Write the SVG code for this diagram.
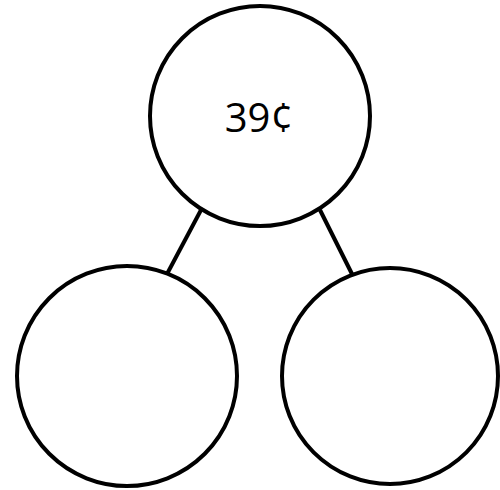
<svg xmlns="http://www.w3.org/2000/svg" width="500" height="490" viewBox="0 0 500 490">
<style>
.n{fill:#fff;stroke:#000;stroke-width:4}
.c{stroke:#000;stroke-width:4;fill:none}
.t{font-family:"Open Sans","Noto Sans",sans-serif;font-size:40px;fill:#000;text-anchor:middle}
</style>
<rect width="500" height="490" fill="#fff"/>
<g id="connectors">
<line class="c" x1="201" y1="210" x2="167" y2="274"/>
<line class="c" x1="320" y1="210" x2="352" y2="274"/>
</g>
<g id="top"><circle class="n" cx="260" cy="116" r="110"/><text class="t" x="259" y="132">39¢</text></g>
<g id="left"><circle class="n" cx="127" cy="376" r="110"/></g>
<g id="right"><circle class="n" cx="390" cy="376" r="108"/></g>
</svg>
